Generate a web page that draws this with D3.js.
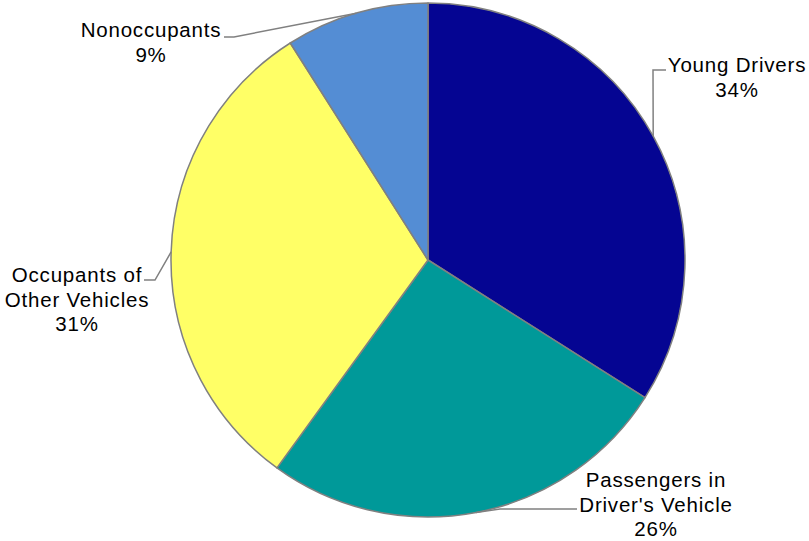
<!DOCTYPE html>
<html>
<head>
<meta charset="utf-8">
<script src="https://cdn.jsdelivr.net/npm/d3@7"></script>
<style>
  html, body { margin: 0; padding: 0; background: #fff; }
  svg { display: block; }
  text { font-family: "Liberation Sans", Arial, sans-serif; fill: #000; }
</style>
</head>
<body>
<svg id="chart" width="809" height="541"></svg>
<script>
// Share of crash deaths by person type
const categories = ["Young Drivers", "Passengers in Driver's Vehicle", "Occupants of Other Vehicles", "Nonoccupants"];
const labelLines = [["Young Drivers"], ["Passengers in", "Driver's Vehicle"], ["Occupants of", "Other Vehicles"], ["Nonoccupants"]];
const values = [34, 26, 31, 9];
const colors = ["#050592", "#009999", "#ffff66", "#548dd4"];

// Label placement: text centre x, first baseline y, leader elbow and end
const labelLayout = [
  { x: 737, y: 72,  elbow: [653, 70],  end: [666, 70] },
  { x: 656, y: 487, elbow: [500, 509], end: [577, 509] },
  { x: 77,  y: 282, elbow: [155, 280], end: [144, 280] },
  { x: 151, y: 37,  elbow: [234, 37],  end: [224, 37] }
];

const cx = 428, cy = 260, r = 257;
const lineH = 24.5;

const svg = d3.select("#chart");
const g = svg.append("g").attr("transform", `translate(${cx},${cy})`);

const pie = d3.pie().sort(null).value(d => d.value);
const arcs = pie(values.map((v, i) => ({ value: v, i })));
const arc = d3.arc().innerRadius(0).outerRadius(r);

g.selectAll("path.slice")
  .data(arcs)
  .join("path")
  .attr("class", "slice")
  .attr("d", arc)
  .attr("fill", d => colors[d.data.i])
  .attr("stroke", "#808080")
  .attr("stroke-width", 1.5)
  .attr("stroke-linejoin", "round");

// Leader lines from each slice's mid-angle on the rim
const leaders = svg.append("g");
arcs.forEach(d => {
  const i = d.data.i;
  const L = labelLayout[i];
  const mid = (d.startAngle + d.endAngle) / 2;
  const sx = cx + r * Math.sin(mid), sy = cy - r * Math.cos(mid);
  leaders.append("path")
    .attr("d", d3.line()([[sx, sy], L.elbow, L.end]))
    .attr("fill", "none")
    .attr("stroke", "#808080")
    .attr("stroke-width", 1.5);
});

// Category labels with percentages
const fmt = d3.format(".0%");
const total = d3.sum(values);
arcs.forEach(d => {
  const i = d.data.i;
  const L = labelLayout[i];
  const lines = labelLines[i].concat([fmt(values[i] / total)]);
  const t = svg.append("text")
    .attr("text-anchor", "middle")
    .attr("font-size", 20.5)
    .attr("letter-spacing", 0.8);
  lines.forEach((s, k) => {
    t.append("tspan").attr("x", L.x).attr("y", L.y + k * lineH).text(s);
  });
});
</script>
</body>
</html>
